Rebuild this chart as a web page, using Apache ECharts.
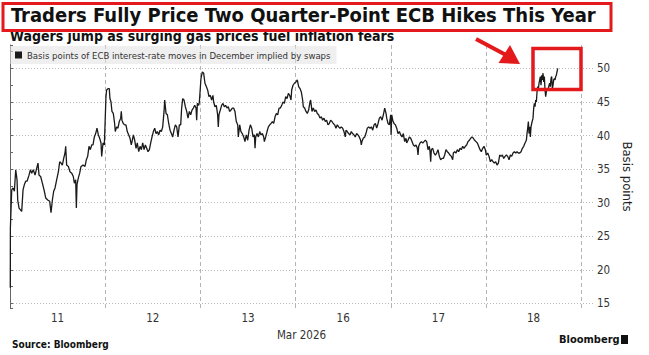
<!DOCTYPE html>
<html><head><meta charset="utf-8">
<script src="https://cdn.jsdelivr.net/npm/echarts@6/dist/echarts.min.js"></script>
<style>html,body{margin:0;padding:0;background:#fff}#c{width:649px;height:355px}</style>
</head><body><div id="c"></div>
<script>
// x position = trading-day index + fraction of the day (0 = 11 Mar, 5 = 18 Mar)
const dayLabels = ['11', '12', '13', '16', '17', '18'];
const monthLabel = 'Mar 2026';
const seriesName = 'Basis points of ECB interest-rate moves in December implied by swaps';

const t11 = [0.003,0.004,0.018,0.032,0.046,0.060,0.074,0.081,0.095,0.112,0.123,0.137,0.151,0.165,0.179,0.200,0.214,0.228,0.245,0.263,0.280,0.294,0.305,0.322,0.340,0.361,0.375,0.396,0.417,0.431,0.445,0.459,0.473,0.490,0.508,0.522,0.536,0.550,0.564,0.578,0.585,0.595,0.613,0.630,0.648,0.665,0.676,0.690,0.697,0.704,0.718,0.732,0.746,0.767,0.788,0.802,0.816,0.830,0.844,0.858,0.872,0.886,0.900,0.914,0.928,0.942,0.956,0.963,0.977,0.991];
const v11 = [17.3,26.2,31.9,32.2,31.7,34.9,33.4,30.4,29.2,28.9,28.7,31.9,32.7,33.2,33.2,34.1,34.9,34.4,34.9,34.1,35.1,35.9,34.1,33.9,32.9,31.7,30.7,30.4,30.2,28.5,30.4,31.7,32.2,33.4,34.6,36.1,35.9,35.6,36.6,37.4,38.4,35.6,35.4,34.6,34.4,33.9,32.9,33.4,29.2,32.7,33.7,34.4,35.4,35.6,35.4,36.4,36.9,38.4,37.9,38.6,38.6,39.8,40.3,41.1,40.1,39.6,38.9,36.9,38.9,38.6];

const t12 = [1.008,1.015,1.029,1.043,1.050,1.061,1.071,1.085,1.099,1.106,1.120,1.134,1.148,1.163,1.169,1.176,1.190,1.204,1.218,1.232,1.247,1.261,1.274,1.282,1.296,1.310,1.324,1.337,1.352,1.366,1.380,1.394,1.408,1.422,1.436,1.450,1.464,1.478,1.492,1.506,1.520,1.534,1.548,1.562,1.576,1.590,1.604,1.618,1.625,1.639,1.653,1.667,1.681,1.695,1.709,1.723,1.737,1.751,1.765,1.779,1.793,1.803,1.814,1.828,1.842,1.856,1.870,1.884,1.898,1.912,1.926,1.940,1.954,1.961,1.968,1.982,1.989];
const v12 = [45.8,46.8,47.0,47.0,45.5,45.0,43.6,43.3,41.8,40.6,41.3,41.1,42.1,42.6,43.6,42.3,41.8,41.6,41.6,40.6,40.1,39.6,38.6,39.1,40.1,39.3,38.1,38.9,37.6,38.4,37.9,38.9,37.9,38.6,38.1,37.6,37.9,38.9,39.8,40.6,41.1,40.3,40.6,40.1,40.8,40.6,41.3,43.6,45.3,43.3,43.1,41.8,40.8,40.3,39.8,40.8,41.6,41.3,39.8,41.6,41.6,44.1,45.5,45.3,44.3,43.6,42.6,43.6,43.1,43.8,44.1,44.5,44.1,42.3,44.8,44.5,45.0];

const t13 = [2.006,2.020,2.034,2.048,2.062,2.076,2.090,2.104,2.118,2.132,2.139,2.153,2.167,2.181,2.188,2.195,2.209,2.223,2.237,2.251,2.265,2.279,2.293,2.307,2.321,2.335,2.349,2.363,2.377,2.392,2.398,2.413,2.426,2.440,2.455,2.468,2.482,2.497,2.511,2.525,2.539,2.553,2.567,2.574,2.581,2.595,2.609,2.623,2.637,2.651,2.665,2.672,2.686,2.700,2.714,2.728,2.742,2.756,2.770,2.784,2.798,2.812,2.826,2.840,2.854,2.868,2.882,2.896,2.910,2.924,2.938,2.952,2.959,2.973,2.987];
const v13 = [48.5,49.5,49.3,47.8,47.3,46.8,45.8,46.0,45.3,46.0,45.0,44.3,44.5,43.1,41.3,43.1,43.8,44.5,44.8,44.3,44.5,44.1,44.3,43.6,43.8,44.1,44.1,43.6,42.1,41.6,39.8,41.6,40.6,40.3,39.8,39.1,40.1,39.3,40.8,41.6,41.1,39.8,40.1,38.1,39.8,40.3,39.8,40.6,40.1,40.3,39.8,39.1,39.8,40.6,41.3,41.6,41.8,42.1,41.8,42.8,43.3,43.1,44.1,44.1,44.5,45.0,44.8,45.8,45.5,46.3,46.0,45.3,46.8,47.5,47.8];

const t16 = [3.004,3.018,3.032,3.046,3.060,3.074,3.081,3.095,3.109,3.123,3.137,3.151,3.158,3.165,3.172,3.186,3.200,3.214,3.228,3.242,3.256,3.270,3.284,3.298,3.312,3.326,3.340,3.354,3.368,3.382,3.396,3.410,3.424,3.438,3.452,3.466,3.480,3.494,3.508,3.522,3.529,3.543,3.557,3.571,3.585,3.599,3.613,3.627,3.641,3.655,3.669,3.683,3.690,3.697,3.711,3.726,3.739,3.753,3.768,3.782,3.796,3.810,3.824,3.838,3.852,3.866,3.880,3.894,3.908,3.922,3.936,3.950,3.957,3.971,3.985,3.999];
const v16 = [48.0,48.3,47.3,47.0,46.5,45.3,44.3,44.1,43.6,43.3,43.8,45.0,45.3,44.5,43.6,44.1,43.6,43.8,43.3,43.1,42.6,42.8,42.3,42.6,42.1,42.3,41.6,41.8,42.3,42.1,41.8,41.6,41.1,41.6,41.3,41.1,41.3,41.1,40.6,39.8,40.8,40.6,40.3,40.1,40.6,40.3,40.1,39.8,40.3,40.1,39.8,39.3,38.6,39.1,39.6,39.8,40.3,41.1,41.3,41.1,41.3,40.8,41.6,41.8,41.1,41.8,42.6,42.8,42.3,43.1,44.1,43.3,42.6,41.8,41.6,43.1];

const t17 = [4.003,4.010,4.020,4.034,4.048,4.062,4.076,4.090,4.104,4.118,4.132,4.146,4.160,4.167,4.181,4.195,4.209,4.223,4.237,4.251,4.265,4.279,4.286,4.293,4.307,4.321,4.335,4.349,4.363,4.377,4.391,4.405,4.412,4.419,4.426,4.440,4.454,4.468,4.482,4.496,4.510,4.524,4.538,4.552,4.566,4.580,4.594,4.608,4.622,4.636,4.650,4.657,4.671,4.685,4.699,4.713,4.727,4.741,4.755,4.769,4.783,4.797,4.811,4.825,4.839,4.853,4.867,4.881,4.895,4.909,4.923,4.937,4.951,4.965,4.979,4.993];
const v17 = [40.1,43.1,42.3,41.8,41.6,41.1,40.3,40.6,40.1,39.8,40.3,39.1,39.6,38.9,39.3,39.8,39.6,39.1,38.6,38.4,38.6,38.1,37.1,38.4,38.9,39.1,38.9,39.1,39.3,39.1,37.9,38.4,37.6,36.1,37.9,38.1,37.4,37.1,37.4,37.9,36.9,36.4,36.6,36.6,37.1,37.9,37.6,37.4,37.1,36.9,36.4,37.4,37.6,37.4,37.9,37.6,38.1,37.9,38.4,38.1,38.4,38.6,39.1,39.3,39.6,39.8,39.6,39.3,39.1,38.9,38.4,37.9,37.6,38.1,38.4,37.9];

const t18 = [5.003,5.018,5.032,5.046,5.060,5.074,5.088,5.102,5.116,5.130,5.144,5.158,5.172,5.186,5.200,5.214,5.228,5.242,5.256,5.270,5.284,5.298,5.312,5.326,5.340,5.354,5.368,5.382,5.396,5.410,5.424,5.431,5.438,5.445,5.452,5.459,5.466,5.473,5.480,5.494,5.501,5.508,5.515,5.522,5.529,5.536,5.543,5.550,5.557,5.564,5.571,5.578,5.585,5.592,5.599,5.606,5.613,5.620,5.627,5.634,5.641,5.648,5.655,5.662,5.669,5.676,5.683,5.690,5.697,5.704,5.711,5.718,5.725,5.732,5.739,5.746,5.753];
const v18 = [37.1,37.4,36.9,36.1,36.4,36.1,35.9,36.1,35.6,35.9,37.1,36.9,37.1,36.6,36.9,37.1,36.9,36.4,37.1,36.9,37.4,37.6,37.4,37.6,37.4,37.4,37.6,38.1,38.4,38.9,39.3,40.3,41.1,42.1,40.3,41.3,39.8,41.3,41.8,42.6,44.1,44.8,44.3,45.3,45.0,46.5,47.3,47.0,47.8,48.3,48.8,47.5,49.0,48.3,49.3,48.0,48.8,46.8,45.8,46.5,47.0,46.8,47.0,47.5,47.8,47.3,48.5,48.8,47.0,47.5,48.3,48.5,48.3,48.8,49.0,49.5,50.0];

const X_MAX = 6.124;
const Y_MIN = 14.3, Y_MAX = 53.5;

const times = [].concat(t11, t12, t13, t16, t17, t18);
const values = [].concat(v11, v12, v13, v16, v17, v18);
const data = times.map((t, i) => [t, values[i]]);

const FONT = '"Liberation Sans Narrow", "DejaVu Sans Condensed", "Liberation Sans", sans-serif';
const BOLD = '"DejaVu Sans Condensed", "DejaVu Sans", sans-serif';
const RED = '#e3191b';

const chart = echarts.init(document.getElementById('c'), null, {renderer: 'svg'});
chart.setOption({
  animation: false,
  backgroundColor: '#fff',
  grid: {left: 10, right: 56, top: 45, bottom: 47, containLabel: false},
  legend: {
    left: 10, top: 46,
    backgroundColor: 'rgba(225,225,225,0.55)',
    padding: [4, 6, 4, 5],
    itemWidth: 7, itemHeight: 7, itemGap: 4,
    icon: 'rect',
    textStyle: {fontSize: 9.5, color: '#333', fontFamily: FONT},
    data: [seriesName]
  },
  xAxis: [
    {
      type: 'value', min: 0, max: X_MAX, interval: 1, position: 'bottom',
      axisLine: {show: false}, axisTick: {show: false}, axisLabel: {show: false},
      splitLine: {show: true, showMinLine: true, showMaxLine: false, lineStyle: {type: [4, 3], color: '#b4b4b4', width: 1}}
    },
    {
      type: 'value', min: 0, max: X_MAX, interval: 0.5, position: 'bottom',
      axisLine: {show: false}, axisTick: {show: false}, splitLine: {show: false},
      axisLabel: {
        margin: 4, fontSize: 11.5, color: '#333', fontFamily: FONT,
        showMinLabel: false, showMaxLabel: false,
        formatter: function (v) {
          if (Math.abs(v - Math.round(v)) < 0.01) return '';
          const i = Math.floor(v);
          return dayLabels[i] || '';
        }
      },
      name: monthLabel, nameLocation: 'middle', nameGap: 18,
      nameTextStyle: {fontSize: 11.5, color: '#333', fontFamily: FONT}
    }
  ],
  yAxis: {
    type: 'value', position: 'right', min: Y_MIN, max: Y_MAX,
    splitNumber: 8, minInterval: 5, maxInterval: 5,
    axisLine: {show: true, lineStyle: {color: '#666', width: 1}},
    axisTick: {show: true, length: 3, lineStyle: {color: '#666'}},
    minorTick: {show: true, splitNumber: 2, length: 3, lineStyle: {color: '#666'}},
    axisLabel: {margin: 4, fontSize: 11.5, color: '#333', fontFamily: FONT, showMinLabel: false, showMaxLabel: false},
    splitLine: {show: true, showMinLine: false, showMaxLine: false, lineStyle: {type: [1, 2], color: '#b8b8b8', width: 1}},
    name: 'Basis points', nameLocation: 'middle', nameRotate: -90, nameGap: 17,
    nameTextStyle: {fontSize: 13, color: '#222', fontFamily: FONT}
  },
  series: [{
    name: seriesName, type: 'line', xAxisIndex: 0, yAxisIndex: 0,
    data: data, showSymbol: false, symbol: 'none',
    lineStyle: {color: '#1a1a1a', width: 1.3},
    itemStyle: {color: '#1a1a1a'},
    z: 5
  }],
  graphic: [
    {type: 'text', left: 11, top: 5, z: 10,
      style: {text: 'Traders Fully Price Two Quarter-Point ECB Hikes This Year', fontSize: 20, fontWeight: 'bold', fontFamily: BOLD, fill: '#111'}},
    {type: 'rect', z: 11, shape: {x: 3, y: 3.5, width: 608, height: 27},
      style: {fill: 'none', stroke: RED, lineWidth: 3}},
    {type: 'text', left: 10, top: 29, z: 10,
      style: {text: 'Wagers jump as surging gas prices fuel inflation fears', fontSize: 14, fontWeight: 'bold', fontFamily: BOLD, fill: '#111'}},
    {type: 'line', z: 12, shape: {x1: 476, y1: 39, x2: 506, y2: 55},
      style: {stroke: RED, lineWidth: 4}},
    {type: 'polygon', z: 12, shape: {points: [[520, 64], [498.5, 63], [510, 45]]},
      style: {fill: RED}},
    {type: 'rect', z: 12, shape: {x: 533, y: 48.5, width: 48, height: 41},
      style: {fill: 'none', stroke: RED, lineWidth: 3.5}},
    {type: 'text', left: 12, top: 339, z: 10,
      style: {text: 'Source: Bloomberg', fontSize: 10, fontWeight: 'bold', fontFamily: BOLD, fill: '#111'}},
    {type: 'text', left: 559, top: 334, z: 10,
      style: {text: 'Bloomberg', fontSize: 11, fontWeight: 'bold', fontFamily: BOLD, fill: '#111'}},
    {type: 'rect', z: 10, shape: {x: 621, y: 335, width: 7, height: 9},
      style: {fill: '#111'}}
  ]
});
</script>
</body></html>
